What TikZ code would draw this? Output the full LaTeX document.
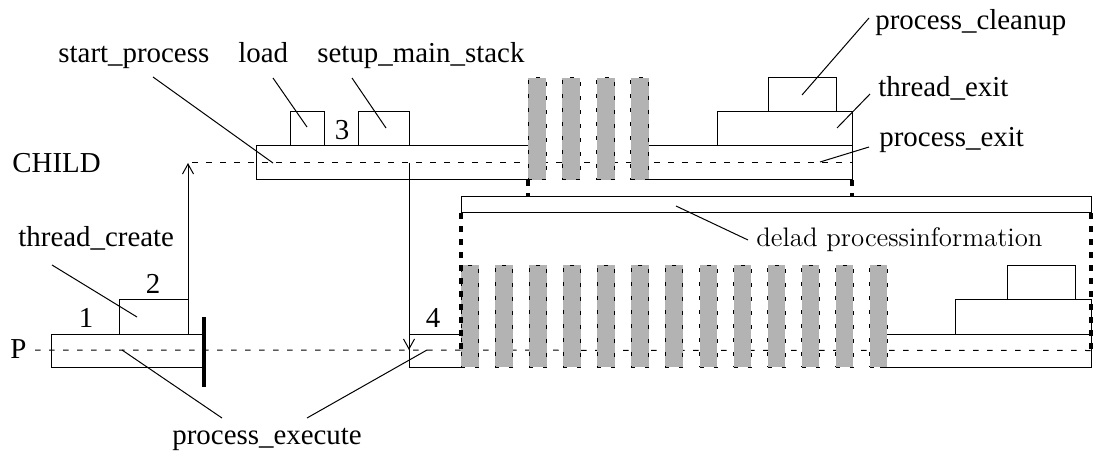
\documentclass[tikz,border=0pt]{standalone}
\usepackage{fontspec}
\newfontfamily\tms{Liberation Serif}
\usetikzlibrary{fit,arrows.meta}
\definecolor{bargray}{RGB}{179,179,179}
\begin{document}
\begin{tikzpicture}[x=0.5pt,y=-0.5pt,
  box/.style={draw, line width=0.5pt, inner sep=0pt, outer sep=0pt},
  bar/.style={fill=bargray, draw, line width=0.5pt, dash pattern=on 2pt off 5pt, inner sep=0pt, outer sep=0pt},
  lbl/.style={font={\tms\fontsize{14.45pt}{17pt}\selectfont}, inner sep=0pt, anchor=base west},
  num/.style={font={\tms\fontsize{14.45pt}{17pt}\selectfont}, inner sep=0pt, anchor=base},
  leader/.style={line width=0.5pt},
  timeline/.style={line width=0.5pt, dash pattern=on 2.75pt off 4.25pt},
  thickdot/.style={line width=2pt, dash pattern=on 3pt off 3.5pt},
  arr/.style={line width=0.5pt, -{Straight Barb[length=5pt,width=5.5pt,line width=0.5pt]}}]
\useasboundingbox (0,0) rectangle (1096,454);

% boxes
\node[box, fit={(51,334) (203,367)}] (pbox) {};
\node[box, fit={(119,299) (188,334)}] (tcbox) {};
\node[box, fit={(256,146) (537,180)}] (spbox) {};
\node[box, fit={(290,112) (324,146)}] (ldbox) {};
\node[box, fit={(358,112) (409,146)}] (smbox) {};
\node[box, fit={(640,146) (852,180)}] (cxbox) {};
\node[box, fit={(717,112) (852,146)}] (tebox) {};
\node[box, fit={(768,78) (836,112)}] (pcbox) {};
\node[box, fit={(409,334) (461,367)}] (bfour) {};
\node[box, fit={(461,197) (1091,213)}] (dpbox) {};
\node[box, fit={(880,334) (1091,367)}] (rxbox) {};
\node[box, fit={(955,299) (1091,334)}] (rtbox) {};
\node[box, fit={(1007,265) (1075,299)}] (rcbox) {};

% labels
\node[lbl] (lchild) at (12,173) {CHILD};
\node[lbl] (lp) at (10,358) {P};
\node[lbl] (ltc) at (18,247) {thread\_create};
\node[lbl] (lsp) at (58,63) {start\_process};
\node[lbl] (lld) at (238,63) {load};
\node[lbl] (lsm) at (317,63) {setup\_main\_stack};
\node[lbl] (lpc) at (875,30) {process\_cleanup};
\node[lbl] (lte) at (878,97) {thread\_exit};
\node[lbl] (lpx) at (879,147) {process\_exit};
\node[lbl] (lpe) at (172,444) {process\_execute};
\node[inner sep=0pt, anchor=base west, font={\fontsize{13.4pt}{16pt}\selectfont}] (ldp) at (756,247) {delad processinformation};
\node[num] (n1) at (86,327) {1};
\node[num] (n2) at (153,293) {2};
\node[num] (n3) at (342,140) {3};
\node[num] (n4) at (433,327) {4};

% coordinates
\coordinate (pstart) at (35,350);
\coordinate (cstart) at (192,163);
\coordinate (uptip) at (188,163);
\coordinate (dntop) at (409,163);
\coordinate (dntip) at (409,350);
\coordinate (tbtop) at (204,317);
\coordinate (tbbot) at (204,387);

% timelines
\draw[timeline] (pstart) -- (rxbox.east);
\draw[timeline] (cstart) -- (cxbox.east);

% leaders
\coordinate (a1) at (52,265);   \coordinate (a2) at (137,317);
\coordinate (b1) at (153,77);   \coordinate (b2) at (273,163);
\coordinate (c1) at (273,78);   \coordinate (c2) at (307,127);
\coordinate (d1) at (352,78);   \coordinate (d2) at (386,128);
\coordinate (e1) at (869,18);   \coordinate (e2) at (802,95);
\coordinate (f1) at (870,94);   \coordinate (f2) at (837,128);
\coordinate (g1) at (869,147);  \coordinate (g2) at (820,162);
\coordinate (h1) at (748,240);  \coordinate (h2) at (676,206);
\coordinate (i1) at (222,418);  \coordinate (i2) at (122,350);
\coordinate (j1) at (307,418);  \coordinate (j2) at (427,350);
\draw[leader] (a1) -- (a2);
\draw[leader] (b1) -- (b2);
\draw[leader] (c1) -- (c2);
\draw[leader] (d1) -- (d2);
\draw[leader] (e1) -- (e2);
\draw[leader] (f1) -- (f2);
\draw[leader] (g1) -- (g2);
\draw[leader] (h1) -- (h2);
\draw[leader] (i1) -- (i2);
\draw[leader] (j1) -- (j2);

% arrows
\draw[arr] (tcbox.north east) -- (uptip);
\draw[arr] (dntop) -- (dntip);

% thick bar
\draw[line width=2pt] (tbtop) -- (tbbot);

% gray bars
\foreach \i in {0,...,3}
  \node[bar, fit={({528+34.3*\i},78) ({546+34.3*\i},180)}] (tb\i) {};
\foreach \i in {0,...,12}
  \node[bar, fit={({461+34.08*\i},265) ({478.5+34.08*\i},367)}] (bb\i) {};

% thick dotted connectors
\coordinate (k1) at (528,180); \coordinate (k2) at (528,197);
\coordinate (m1) at (852,180); \coordinate (m2) at (852,197);
\coordinate (q1) at (461,213); \coordinate (q2) at (461,352);
\coordinate (r1) at (1091,213); \coordinate (r2) at (1091,352);
\draw[thickdot] (k1) -- (k2);
\draw[thickdot] (m1) -- (m2);
\draw[thickdot] (q1) -- (q2);
\draw[thickdot] (r1) -- (r2);
\end{tikzpicture}
\end{document}
